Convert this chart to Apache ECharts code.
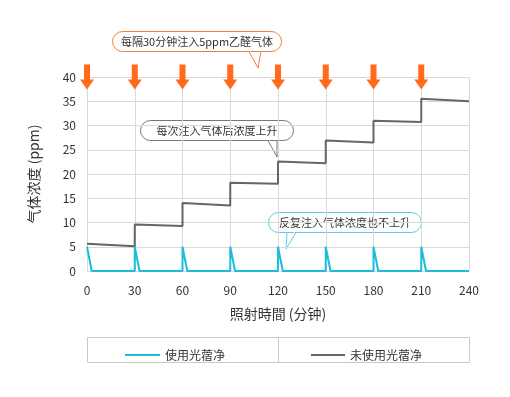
<!DOCTYPE html>
<html>
<head>
<meta charset="utf-8">
<script src="https://cdn.jsdelivr.net/npm/echarts@6/dist/echarts.min.js"></script>
<style>
html,body{margin:0;padding:0;background:#fff;}
#chart{width:510px;height:397px;}
</style>
</head>
<body>
<div id="chart"></div>
<script>
var FONT = '"Noto Sans CJK SC", "Noto Sans", sans-serif';

// 使用光蓿净
var cleanTime  = [0, 3, 30, 30, 33, 60, 60, 63, 90, 90, 93, 120, 120, 123, 150, 150, 153, 180, 180, 183, 210, 210, 213, 240];
var cleanValue = [5, 0, 0,  5,  0,  0,  5,  0,  0,  5,  0,  0,   5,   0,   0,   5,   0,   0,   5,   0,   0,   5,   0,   0];
// 未使用光蓿净
var rawTime  = [0,   30,  30,  60,  60,   90,   90,   120,  120,  150,  150,  180,  180,  210,  210,  240];
var rawValue = [5.6, 5.1, 9.6, 9.3, 14.0, 13.5, 18.2, 18.0, 22.6, 22.2, 26.9, 26.5, 31.0, 30.7, 35.5, 35.0];
// 注入时刻
var injectTime = [0, 30, 60, 90, 120, 150, 180, 210];

var BLUE = '#1cbcdc', GRAY = '#666666', ORANGE = '#ff6a1c';

function pairs(xs, ys){
	var out = [];
	for (var i = 0; i < xs.length; i++) out.push([xs[i], ys[i]]);
	return out;
}

function callout(x, y, w, h, tail, color, text){
	return {
		type: 'group',
		children: [
			{type: 'rect', shape: {x: x, y: y, width: w, height: h, r: h / 2},
				style: {fill: '#fff', stroke: color, lineWidth: 1}},
			{type: 'polygon', shape: {points: [[tail[0][0] + 1, y + h - 1.5], [tail[1][0], tail[1][1] - 2], [tail[2][0] - 1, y + h - 1.5], [tail[2][0] - 1, y + h + 1], [tail[0][0] + 1, y + h + 1]]},
				style: {fill: '#fff'}},
			{type: 'polyline', shape: {points: tail},
				style: {fill: null, stroke: color, lineWidth: 1}},
			{type: 'text', x: x + w / 2, y: y + h / 2,
				style: {text: text, fill: '#333', font: '11px ' + FONT, align: 'center', verticalAlign: 'middle'}}
		]
	};
}

var chart = echarts.init(document.getElementById('chart'));
var option = {
	animation: false,
	textStyle: {fontFamily: FONT},
	grid: {left: 87, right: 41, top: 77, bottom: 126},
	xAxis: {
		type: 'value', min: 0, max: 240, interval: 30,
		name: '照射時間 (分钟)', nameLocation: 'middle', nameGap: 36,
		nameTextStyle: {fontSize: 14, color: '#333', fontFamily: FONT},
		axisLine: {show: false}, axisTick: {show: false},
		axisLabel: {color: '#333', fontSize: 12, margin: 13},
		splitLine: {show: true, lineStyle: {color: '#d9d9d9', width: 1}}
	},
	yAxis: {
		type: 'value', min: 0, max: 40, interval: 5,
		name: '气体浓度 (ppm)', nameLocation: 'middle', nameGap: 46,
		nameTextStyle: {fontSize: 14, color: '#333', fontFamily: FONT},
		axisLine: {show: false}, axisTick: {show: false},
		axisLabel: {color: '#333', fontSize: 12, margin: 11},
		splitLine: {show: true, lineStyle: {color: '#d9d9d9', width: 1}}
	},
	legend: [
		{data: ['使用光蓿净'], left: 120, top: 344, icon: 'rect', itemWidth: 35, itemHeight: 2, itemGap: 5,
			textStyle: {fontSize: 12, color: '#333'}, selectedMode: false},
		{data: ['未使用光蓿净'], left: 306, top: 344, icon: 'rect', itemWidth: 34, itemHeight: 2, itemGap: 5,
			textStyle: {fontSize: 12, color: '#333'}, selectedMode: false}
	],
	graphic: [
		{type: 'rect', shape: {x: 87.5, y: 337.5, width: 382, height: 25}, style: {fill: null, stroke: '#c8c8c8', lineWidth: 1}},
		{type: 'line', shape: {x1: 278.5, y1: 337.5, x2: 278.5, y2: 362.5}, style: {stroke: '#c8c8c8', lineWidth: 1}},
		callout(112.5, 31.5, 169, 20, [[249, 51.5], [258, 68], [261, 51.5]], '#f08040', '每隔30分钟注入5ppm乙醛气体'),
		callout(140.5, 120.5, 153, 20, [[268, 140.5], [277, 157], [277, 140.5]], '#777', '每次注入气体后浓度上升'),
		callout(268.5, 212.5, 153, 20, [[287, 232.5], [286, 249], [296, 232.5]], '#5fcbe3', '反复注入气体浓度也不上升')
	],
	series: [
		{
			name: '未使用光蓿净', type: 'line', data: pairs(rawTime, rawValue),
			showSymbol: false, symbol: 'none', color: GRAY,
			lineStyle: {color: GRAY, width: 2}, z: 3
		},
		{
			name: '使用光蓿净', type: 'line', data: pairs(cleanTime, cleanValue),
			showSymbol: false, symbol: 'none', color: BLUE,
			lineStyle: {color: BLUE, width: 2}, z: 4
		},
		{
			name: '注入', type: 'scatter', clip: false, silent: true,
			data: injectTime.map(function(t){ return [t, 40]; }),
			symbol: 'path://M4,0 L10,0 L10,15 L14,15 L7,25 L0,15 L4,15 Z',
			symbolSize: [14, 25], itemStyle: {color: ORANGE, opacity: 1}, z: 5
		}
	]
};
chart.setOption(option);
</script>
</body>
</html>
